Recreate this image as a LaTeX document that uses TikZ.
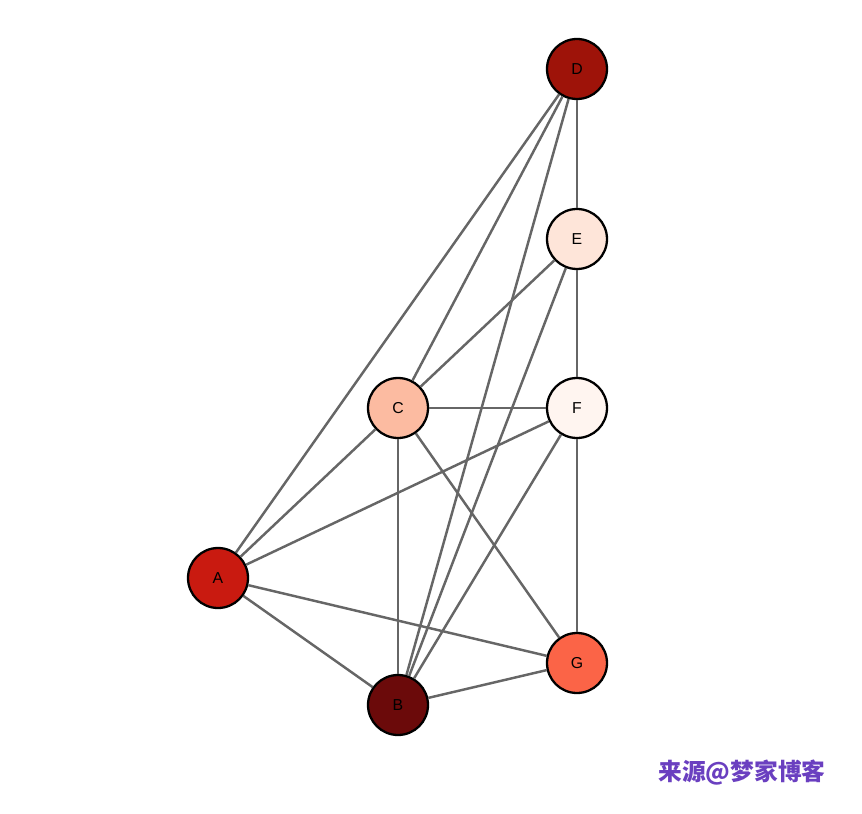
\documentclass[tikz,border=0pt]{standalone}
\usepackage{fontspec}
\setmainfont{Liberation Sans}
\newfontfamily\cjk{Noto Sans CJK SC}
\definecolor{cD}{HTML}{9E1309}
\definecolor{cE}{HTML}{FEE5D9}
\definecolor{cF}{HTML}{FFF5F0}
\definecolor{cC}{HTML}{FCBBA1}
\definecolor{cA}{HTML}{C91A10}
\definecolor{cG}{HTML}{FB6447}
\definecolor{cB}{HTML}{6B0A0A}
\definecolor{edge}{HTML}{666666}
\definecolor{wm}{HTML}{6A3FC0}
\begin{document}
\begin{tikzpicture}[x=0.02cm,y=-0.02cm,
  v/.style={circle,draw=black,line width=1.3pt,minimum size=1.2cm,inner sep=0pt,font=\fontsize{9pt}{9pt}\selectfont},
  e/.style={draw=edge,line width=1.4pt}]
\useasboundingbox (0,0) rectangle (862,814);
\node[v,fill=cD] (D) at (577,69) {D};
\node[v,fill=cE] (E) at (577,239) {E};
\node[v,fill=cF] (F) at (577,408) {F};
\node[v,fill=cC] (C) at (398,408) {C};
\node[v,fill=cA] (A) at (218,578) {A};
\node[v,fill=cG] (G) at (577,663) {G};
\node[v,fill=cB] (B) at (398,705) {B};
\begin{scope}[on background layer/.style={}]
\end{scope}
\begin{pgfinterruptboundingbox}\end{pgfinterruptboundingbox}
\foreach \a/\b in {D/A,D/C,D/B,D/E,E/C,E/B,E/F,C/F,C/A,C/B,C/G,F/A,F/B,F/G,A/G,A/B,B/G}
  \draw[e] (\a) -- (\b);
\node[text=wm,font=\cjk\bfseries\fontsize{13.5pt}{14pt}\selectfont] (wm) at (742,773) {来源@梦家博客};
\end{tikzpicture}
\end{document}
